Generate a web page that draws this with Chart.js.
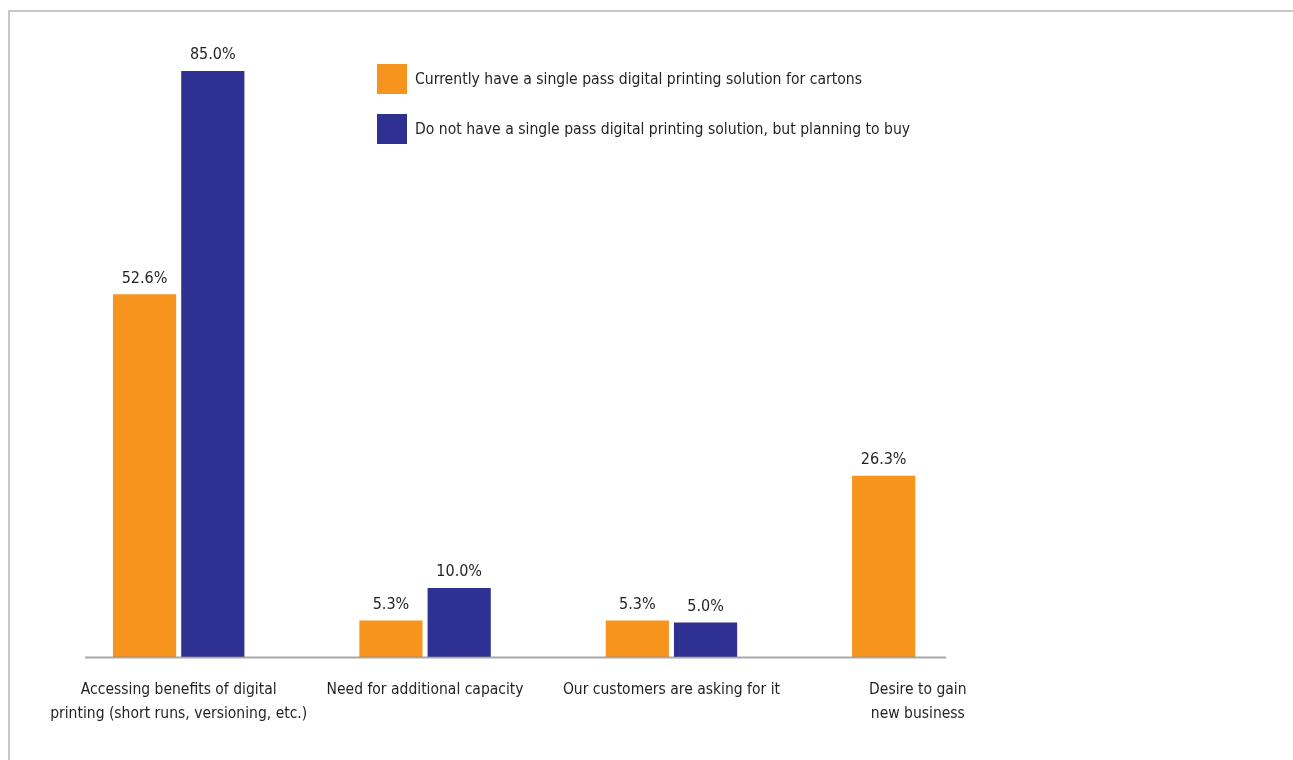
<!DOCTYPE html>
<html>
<head>
<meta charset="utf-8">
<script src="https://cdn.jsdelivr.net/npm/chart.js@4.4.1/dist/chart.umd.min.js"></script>
<style>
  html, body { margin: 0; padding: 0; background: #fff; }
  #wrap { position: relative; width: 1293px; height: 760px; overflow: hidden; }
  #frame { position: absolute; left: 8px; top: 10px; width: 1400px; height: 900px;
           border-left: 2px solid #c8c8c8; border-top: 2px solid #c8c8c8; }
  #chart { position: absolute; left: 0; top: 0; }
  .leg { position: absolute; left: 377px; height: 30px; display: flex; align-items: center;
         font-family: "Liberation Sans Narrow", "DejaVu Sans Condensed", sans-serif;
         font-size: 15.6px; color: #231f20; white-space: nowrap; }
  .leg span.box { width: 30px; height: 30px; margin-right: 8px; display: inline-block; }
</style>
</head>
<body>
<div id="wrap">
  <div id="frame"></div>
  <canvas id="chart" width="1293" height="760"></canvas>
  <div id="legend"></div>
</div>
<script>
const categorias = [
  ['Accessing benefits of digital', 'printing (short runs, versioning, etc.)'],
  'Need for additional capacity',
  'Our customers are asking for it',
  ['Desire to gain', 'new business']
];
const serieActual = [52.6, 5.3, 5.3, 26.3];
const seriePlan = [85.0, 10.0, 5.0, null];
const etiquetasSerie = [
  'Currently have a single pass digital printing solution for cartons',
  'Do not have a single pass digital printing solution, but planning to buy'
];
const colores = ['#f7941d', '#2e3192'];

const FUENTE = '"Liberation Sans Narrow", "DejaVu Sans Condensed", sans-serif';

// valores encima de cada barra
const valoresPlugin = {
  id: 'valores',
  afterDatasetsDraw(chart) {
    const ctx = chart.ctx;
    ctx.save();
    ctx.font = '16px ' + FUENTE;
    ctx.fillStyle = '#231f20';
    ctx.textAlign = 'center';
    ctx.textBaseline = 'bottom';
    chart.data.datasets.forEach((ds, i) => {
      chart.getDatasetMeta(i).data.forEach((bar, j) => {
        const v = ds.data[j];
        if (v === null || v === undefined) return;
        ctx.fillText(v.toFixed(1) + '%', bar.x, bar.y - 8);
      });
    });
    ctx.restore();
  }
};

// linea base del eje x, un poco mas corta que el area del grafico
const ejePlugin = {
  id: 'ejeBase',
  afterDatasetsDraw(chart) {
    const x = chart.scales.x, y = chart.scales.y;
    const y0 = Math.round(y.getPixelForValue(0)) + 0.5;
    const ctx = chart.ctx;
    ctx.save();
    ctx.strokeStyle = 'rgba(140,140,140,0.75)';
    ctx.lineWidth = 2;
    ctx.beginPath();
    ctx.moveTo(x.getPixelForValue(-0.38), y0);
    ctx.lineTo(x.getPixelForValue(3.115), y0);
    ctx.stroke();
    ctx.restore();
  }
};

const ctx = document.getElementById('chart');
const grafico = new Chart(ctx, {
  type: 'bar',
  data: {
    labels: categorias,
    datasets: [
      { label: etiquetasSerie[0], data: serieActual, backgroundColor: colores[0] },
      { label: etiquetasSerie[1], data: seriePlan, backgroundColor: colores[1] }
    ]
  },
  options: {
    responsive: false,
    animation: false,
    devicePixelRatio: 1,
    layout: { padding: { left: 55.5, right: 252, top: 36.5, bottom: 13 } },
    datasets: { bar: { categoryPercentage: 0.554, barPercentage: 0.926 } },
    plugins: { legend: { display: false }, tooltip: { enabled: false } },
    scales: {
      x: {
        grid: { display: false, drawTicks: false },
        border: { display: false },
        ticks: {
          color: '#231f20',
          font: { family: FUENTE, size: 15.5, lineHeight: 1.55 },
          padding: 21, maxRotation: 0, autoSkip: false
        },
        afterFit(scale) { scale.height = 90; }
      },
      y: { display: false, min: 0, max: 90 }
    }
  },
  plugins: [valoresPlugin, ejePlugin]
});

// leyenda en html
const leyenda = document.getElementById('legend');
grafico.data.datasets.forEach((ds, i) => {
  const d = document.createElement('div');
  d.className = 'leg';
  d.style.top = (64 + i * 50) + 'px';
  d.innerHTML = '<span class="box" style="background:' + ds.backgroundColor + '"></span>';
  d.appendChild(document.createTextNode(ds.label));
  leyenda.appendChild(d);
});
</script>
</body>
</html>
